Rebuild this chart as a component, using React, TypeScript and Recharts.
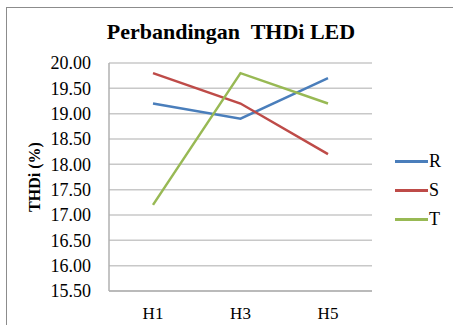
import React from "react";
import { LineChart, Line, XAxis, YAxis, CartesianGrid } from "recharts";

const categories = ["H1", "H3", "H5"];
const seriesR = [19.2, 18.9, 19.7];
const seriesS = [19.8, 19.2, 18.2];
const seriesT = [17.2, 19.8, 19.2];
const yTicks = [15.5, 16, 16.5, 17, 17.5, 18, 18.5, 19, 19.5, 20];

const data = categories.map((c, i) => ({
  name: c,
  R: seriesR[i],
  S: seriesS[i],
  T: seriesT[i],
}));

const font = "'Liberation Serif', 'Times New Roman', Times, serif";

const legendItems = [
  { name: "R", color: "#4a7ebb" },
  { name: "S", color: "#be4b48" },
  { name: "T", color: "#98b954" },
];

// force the serif face everywhere inside the chart, svg text included
const css = `
.thdi-chart, .thdi-chart * { font-family: 'Liberation Serif', 'Times New Roman', Times, serif !important; }
`;

const App = () => {
  return (
    <div
      className="thdi-chart"
      style={{
        position: "absolute",
        left: 0,
        top: 0,
        width: 453,
        height: 325,
        background: "#fff",
        overflow: "hidden",
        fontFamily: font,
      }}
    >
      <style>{css}</style>
      {/* chart frame */}
      <div
        style={{
          position: "absolute",
          left: 6,
          top: 7,
          width: 460,
          height: 330,
          borderLeft: "1.5px solid #8c8c8c",
          borderTop: "1.5px solid #8c8c8c",
        }}
      />
      {/* title */}
      <div
        style={{
          position: "absolute",
          left: 0,
          top: 19,
          width: 462,
          textAlign: "center",
          fontWeight: "bold",
          fontSize: 22,
          color: "#000",
        }}
      >
        Perbandingan&nbsp; THDi LED
      </div>
      <LineChart
        width={453}
        height={325}
        data={data}
        margin={{ top: 63, right: 81, bottom: 4, left: 0 }}
        style={{ position: "absolute", left: 0, top: 0 }}
      >
        <CartesianGrid vertical={false} stroke="#c8c8c8" strokeWidth={1.5} />
        <XAxis
          dataKey="name"
          height={30}
          padding={{ left: 44, right: 44 }}
          tickLine={false}
          stroke="#b0b0b0"
          strokeWidth={1.5}
          tick={{ fill: "#000", fontFamily: font, fontSize: 17 }}
          dy={8}
        />
        <YAxis
          width={109}
          domain={[15.5, 20]}
          ticks={yTicks}
          interval={0}
          tickLine={false}
          stroke="#b0b0b0"
          strokeWidth={1.5}
          tickFormatter={(v: number) => v.toFixed(2)}
          tick={{ fill: "#000", fontFamily: font, fontSize: 18 }}
          tickMargin={12}
          label={{
            value: "THDi (%)",
            angle: -90,
            position: "insideLeft",
            offset: 34,
            style: { fontFamily: font, fontWeight: "bold", fontSize: 16, fill: "#000", textAnchor: "middle" },
          }}
        />
        <Line dataKey="R" stroke="#4a7ebb" strokeWidth={2.5} dot={false} isAnimationActive={false} />
        <Line dataKey="S" stroke="#be4b48" strokeWidth={2.5} dot={false} isAnimationActive={false} />
        <Line dataKey="T" stroke="#98b954" strokeWidth={2.5} dot={false} isAnimationActive={false} />
      </LineChart>
      {/* legend */}
      <div style={{ position: "absolute", left: 395, top: 147, fontSize: 18, color: "#000" }}>
        {legendItems.map((item) => (
          <div key={item.name} style={{ display: "flex", alignItems: "center", height: 29 }}>
            <div style={{ width: 33, height: 3, background: item.color }} />
            <span style={{ marginLeft: 1 }}>{item.name}</span>
          </div>
        ))}
      </div>
    </div>
  );
};

export default App;
